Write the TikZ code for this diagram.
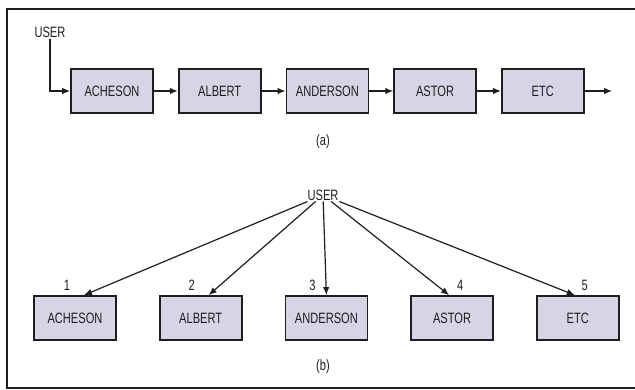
\documentclass[tikz,border=0pt]{standalone}
\usepackage{fontspec}
\setmainfont{Liberation Sans}[FakeStretch=0.74]
\usepackage{xcolor}
\usepackage{tikz}
\usetikzlibrary{arrows.meta,positioning,calc}

\definecolor{boxfill}{RGB}{216,212,230}
\definecolor{ink}{RGB}{30,30,30}

\begin{document}
\begin{tikzpicture}[
    x=1pt, y=-1pt,
    txt/.style={font=\fontsize{15}{17}\selectfont, text=ink, inner sep=1pt},
    namebox/.style={rectangle, draw=ink, line width=1.7pt, minimum width=82pt, minimum height=44pt, fill=boxfill, txt},
    arrow/.style={-{Latex[length=8pt,width=6.5pt]}, draw=ink, line width=1.2pt}
]
    \useasboundingbox (0,0) rectangle (635,390);
    \draw[ink, line width=2.6pt] (635,9) -- (7,9) -- (7,388) -- (635,388);

    % (a) chain of records
    \node[txt] (usera) at (50,32) {USER};
    \node[namebox] (a1) at (112,91) {ACHESON};
    \node[namebox, right=24pt of a1] (a2) {ALBERT};
    \node[namebox, right=24pt of a2] (a3) {ANDERSON};
    \node[namebox, right=24pt of a3] (a4) {ASTOR};
    \node[namebox, right=24pt of a4] (a5) {ETC};
    \coordinate (aend) at (612,91);
    \node[txt] (capa) at (323,142) {(a)};

    \draw[arrow] (usera.south) |- (a1.west);
    \draw[arrow] (a1) -- (a2);
    \draw[arrow] (a2) -- (a3);
    \draw[arrow] (a3) -- (a4);
    \draw[arrow] (a4) -- (a5);
    \draw[arrow] (a5) -- (aend);

    % (b) direct access
    \node[txt] (userb) at (323,195) {USER};
    \node[namebox] (b1) at (75,318) {ACHESON};
    \node[namebox, right=42pt of b1] (b2) {ALBERT};
    \node[namebox, right=42pt of b2] (b3) {ANDERSON};
    \node[namebox, right=42pt of b3] (b4) {ASTOR};
    \node[namebox, right=42pt of b4] (b5) {ETC};
    \node[txt] (capb) at (323,367) {(b)};

    \node[txt] (n1) at ($(b1.north)+(-8,-10)$) {1};
    \node[txt] (n2) at ($(b2.north)+(-9,-10)$) {2};
    \node[txt] (n3) at ($(b3.north)+(-14,-10)$) {3};
    \node[txt] (n4) at ($(b4.north)+(8,-10)$) {4};
    \node[txt] (n5) at ($(b5.north)+(7,-10)$) {5};

    \draw[arrow] (userb) -- ([xshift=9pt]b1.north);
    \draw[arrow] (userb) -- ([xshift=8pt]b2.north);
    \draw[arrow] (userb) -- (b3.north);
    \draw[arrow] (userb) -- ([xshift=-3pt]b4.north);
    \draw[arrow] (userb) -- ([xshift=-3pt]b5.north);
\end{tikzpicture}
\end{document}
